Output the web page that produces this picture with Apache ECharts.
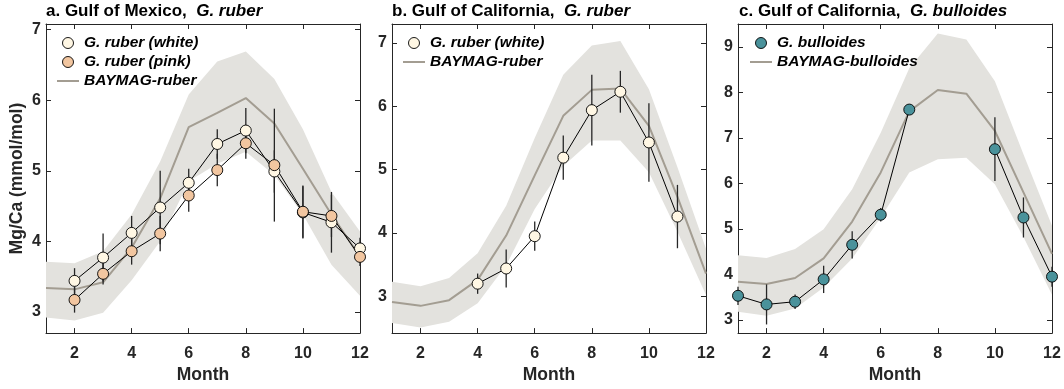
<!DOCTYPE html>
<html>
<head>
<meta charset="utf-8">
<script src="https://cdn.jsdelivr.net/npm/echarts@6/dist/echarts.min.js"></script>
<style>
  html, body { margin: 0; padding: 0; background: #fff; }
  #chart { width: 1064px; height: 389px; }
</style>
</head>
<body>
<div id="chart"></div>
<script>
// Month axis and tick labels
const months = [1, 2, 3, 4, 5, 6, 7, 8, 9, 10, 11, 12];
const monthTicks = [2, 4, 6, 8, 10, 12];
const ticksA = [3, 4, 5, 6, 7];
const ticksB = [3, 4, 5, 6, 7];
const ticksC = [3, 4, 5, 6, 7, 8, 9];

// a. Gulf of Mexico, G. ruber (Mg/Ca, mmol/mol)
const gomWhite    = [null, 3.44, 3.77, 4.12, 4.48, 4.83, 5.38, 5.57, 4.99, 4.41, 4.27, 3.90];
const gomWhiteErr = [null, 0.18, 0.34, 0.24, 0.52, 0.20, 0.21, 0.32, 0.30, 0.37, 0.43, 0.15];
const gomPink     = [null, 3.17, 3.54, 3.86, 4.11, 4.65, 5.01, 5.39, 5.08, 4.42, 4.36, 3.78];
const gomPinkErr  = [null, 0.18, 0.15, 0.19, 0.25, 0.23, 0.23, 0.22, 0.80, 0.37, 0.30, 0.13];
const gomModel    = [3.34, 3.32, 3.42, 3.91, 4.61, 5.62, 5.82, 6.03, 5.67, 5.03, 4.38, 3.78];
const gomUpper    = [3.71, 3.69, 3.86, 4.38, 5.13, 6.08, 6.55, 6.69, 6.30, 5.59, 4.70, 4.14];
const gomLower    = [2.92, 2.88, 2.99, 3.45, 4.00, 4.85, 5.10, 5.27, 4.94, 4.38, 3.67, 3.23];

// b. Gulf of California, G. ruber
const gocWhite    = [null, null, null, 3.20, 3.44, 3.95, 5.19, 5.94, 6.23, 5.43, 4.26, null];
const gocWhiteErr = [null, null, null, 0.16, 0.30, 0.23, 0.35, 0.56, 0.33, 0.62, 0.50, null];
const gocModel    = [2.91, 2.85, 2.94, 3.26, 3.96, 4.91, 5.85, 6.26, 6.28, 5.69, 4.57, 3.36];
const gocUpper    = [3.23, 3.16, 3.29, 3.68, 4.43, 5.50, 6.50, 6.96, 7.03, 6.27, 5.04, 3.75];
const gocLower    = [2.58, 2.51, 2.60, 2.89, 3.49, 4.38, 5.06, 5.46, 5.46, 4.96, 4.02, 3.02];

// c. Gulf of California, G. bulloides
const bull        = [3.53, 3.34, 3.40, 3.89, 4.65, 5.31, 7.62, null, null, 6.75, 5.25, 3.95];
const bullErr     = [0.20, 0.44, 0.16, 0.30, 0.30, 0.15, 0.08, null, null, 0.70, 0.44, 0.22];
const bullModel   = [3.84, 3.79, 3.92, 4.35, 5.16, 6.24, 7.58, 8.05, 7.97, 7.15, 5.80, 4.45];
const bullUpper   = [4.42, 4.36, 4.56, 4.99, 5.87, 7.11, 8.53, 9.29, 9.16, 8.24, 6.64, 5.07];
const bullLower   = [3.18, 3.09, 3.25, 3.71, 4.35, 5.25, 6.24, 6.53, 6.56, 5.98, 4.82, 3.55];

const FONT = '"Liberation Sans", Arial, Helvetica, sans-serif';
const AXIS = '#262626';
const BAND = '#e3e2de';
const MODEL = '#a39d92';
const WHITE = '#fff7e4';
const PINK = '#f2c6a0';
const TEAL = '#4a929b';

const chart = echarts.init(document.getElementById('chart'), null, { renderer: 'canvas' });

const grids = [
  { left: 46,  top: 24, width: 314, height: 311 },
  { left: 392, top: 24, width: 314, height: 311 },
  { left: 738, top: 24, width: 314, height: 311 }
];
const yRanges = [[2.7, 7.08], [2.42, 7.3], [2.71, 9.5]];
const yTicks = [ticksA, ticksB, ticksC];

const xAxes = [], yAxes = [], series = [];

grids.forEach((g, i) => {
  const common = {
    gridIndex: i, type: 'value', min: 1, max: 12,
    axisLine: { show: true, onZero: false, lineStyle: { color: AXIS, width: 1 } },
    axisTick: { show: true, inside: true, length: 5, customValues: monthTicks, lineStyle: { color: AXIS, width: 1 } },
    splitLine: { show: false }
  };
  xAxes.push(Object.assign({}, common, {
    position: 'bottom',
    name: 'Month', nameLocation: 'middle', nameGap: 29,
    nameTextStyle: { fontFamily: FONT, fontWeight: 'bold', fontSize: 17.5, color: AXIS },
    axisLabel: { customValues: monthTicks, margin: 12, fontFamily: FONT, fontWeight: 'bold', fontSize: 16, color: AXIS }
  }));
  xAxes.push(Object.assign({}, common, {
    position: 'top', axisLabel: { show: false }
  }));
  const yc = {
    gridIndex: i, type: 'value', min: yRanges[i][0], max: yRanges[i][1],
    axisLine: { show: true, onZero: false, lineStyle: { color: AXIS, width: 1 } },
    axisTick: { show: true, inside: true, length: 5, customValues: yTicks[i], lineStyle: { color: AXIS, width: 1 } },
    splitLine: { show: false }
  };
  yAxes.push(Object.assign({}, yc, {
    position: 'left',
    axisLabel: { customValues: yTicks[i], margin: 5, fontFamily: FONT, fontWeight: 'bold', fontSize: 16, color: AXIS },
    name: i === 0 ? 'Mg/Ca (mmol/mol)' : '',
    nameLocation: 'middle', nameGap: 20,
    nameTextStyle: { fontFamily: FONT, fontWeight: 'bold', fontSize: 17.5, color: AXIS }
  }));
  yAxes.push(Object.assign({}, yc, {
    position: 'right', axisLabel: { show: false }
  }));
});

const pairs = (vals) => months.map((m, k) => [m, vals[k] == null ? '-' : vals[k]]);
const points = (vals) => months.map((m, k) => vals[k] == null ? null : [m, vals[k]]).filter(Boolean);

// shaded model range: one polygon through the upper edge and back along the lower edge
function addBand(i, lower, upper) {
  series.push({
    type: 'custom', xAxisIndex: 2 * i, yAxisIndex: 2 * i, z: 1, silent: true,
    data: months.map((m, k) => [m, lower[k], upper[k]]),
    encode: { x: 0, y: [1, 2] },
    renderItem: (params, api) => {
      if (params.dataIndex !== 0) return null;
      const top = months.map((m, k) => api.coord([m, upper[k]]));
      const bot = months.map((m, k) => api.coord([m, lower[k]])).reverse();
      return { type: 'polygon', shape: { points: top.concat(bot) },
               style: { fill: BAND, stroke: null } };
    }
  });
}

function addModel(i, name, vals) {
  series.push({
    name, type: 'line', xAxisIndex: 2 * i, yAxisIndex: 2 * i,
    data: pairs(vals), symbol: 'none', showSymbol: false, z: 2, silent: true,
    lineStyle: { color: MODEL, width: 2 }, itemStyle: { color: MODEL }
  });
}

function addObs(i, name, vals, errs, fill, z) {
  // error bars
  series.push({
    type: 'custom', xAxisIndex: 2 * i, yAxisIndex: 2 * i, z: 3, silent: true,
    data: months.map((m, k) => (vals[k] == null || errs[k] == null) ? null : [m, vals[k], errs[k]]).filter(Boolean),
    encode: { x: 0, y: 1 },
    renderItem: (params, api) => {
      const x = api.value(0), y = api.value(1), e = api.value(2);
      const p1 = api.coord([x, y - e]);
      const p2 = api.coord([x, y + e]);
      return { type: 'line', shape: { x1: p1[0], y1: p1[1], x2: p2[0], y2: p2[1] },
               style: { stroke: AXIS, lineWidth: 1.3 } };
    }
  });
  // connecting trace
  series.push({
    type: 'line', xAxisIndex: 2 * i, yAxisIndex: 2 * i, z: 4, silent: true,
    data: pairs(vals), symbol: 'none', connectNulls: false,
    lineStyle: { color: '#000', width: 1 }
  });
  // markers
  series.push({
    name, type: 'scatter', xAxisIndex: 2 * i, yAxisIndex: 2 * i, z: z, silent: true,
    data: points(vals), symbol: 'circle', symbolSize: 11,
    itemStyle: { color: fill, borderColor: '#000', borderWidth: 0.9, opacity: 1 }
  });
}

// panel a
addBand(0, gomLower, gomUpper);
addModel(0, 'BAYMAG-ruber', gomModel);
addObs(0, 'G. ruber (white)', gomWhite, gomWhiteErr, WHITE, 5);
addObs(0, 'G. ruber (pink)', gomPink, gomPinkErr, PINK, 6);
// panel b
addBand(1, gocLower, gocUpper);
addModel(1, 'BAYMAG-ruber', gocModel);
addObs(1, 'G. ruber (white)', gocWhite, gocWhiteErr, WHITE, 5);
// panel c
addBand(2, bullLower, bullUpper);
addModel(2, 'BAYMAG-bulloides', bullModel);
addObs(2, 'G. bulloides', bull, bullErr, TEAL, 5);

const titleRich = {
  n: { fontFamily: FONT, fontWeight: 'bold', fontSize: 17, color: '#000' },
  i: { fontFamily: FONT, fontWeight: 'bold', fontStyle: 'italic', fontSize: 17, color: '#000' }
};
const titles = [
  { left: 46,  top: 2, padding: [1, 0], text: '{n|a. Gulf of Mexico,  }{i|G. ruber}', textStyle: { rich: titleRich } },
  { left: 392, top: 2, padding: [1, 0], text: '{n|b. Gulf of California,  }{i|G. ruber}', textStyle: { rich: titleRich } },
  { left: 739, top: 2, padding: [1, 0], text: '{n|c. Gulf of California,  }{i|G. bulloides}', textStyle: { rich: titleRich } }
];

// legend: circles for the samples, a short bar for the model curve
const lineIcon = 'path://M0,0H22V2H0Z';
const modelEntry = (name) => ({ name, icon: lineIcon, itemStyle: { color: MODEL, borderWidth: 0 } });
const sampleEntry = (name, fill) => ({ name, icon: 'circle',
  itemStyle: { color: fill, borderColor: '#000', borderWidth: 0.9 } });
const legendText = { fontFamily: FONT, fontSize: 15.5, fontWeight: 'bold', fontStyle: 'italic', color: '#000' };
const legendBase = { orient: 'vertical', top: 35, itemWidth: 22, itemHeight: 11, itemGap: 3,
                     textStyle: legendText, selectedMode: false, padding: 0 };
const legends = [
  Object.assign({}, legendBase, { left: 57, data: [
    sampleEntry('G. ruber (white)', WHITE), sampleEntry('G. ruber (pink)', PINK), modelEntry('BAYMAG-ruber')] }),
  Object.assign({}, legendBase, { left: 403, data: [
    sampleEntry('G. ruber (white)', WHITE), modelEntry('BAYMAG-ruber')] }),
  Object.assign({}, legendBase, { left: 750, data: [
    sampleEntry('G. bulloides', TEAL), modelEntry('BAYMAG-bulloides')] })
];

chart.setOption({
  animation: false,
  backgroundColor: '#fff',
  title: titles,
  legend: legends,
  grid: grids,
  xAxis: xAxes,
  yAxis: yAxes,
  series: series
});
</script>
</body>
</html>
